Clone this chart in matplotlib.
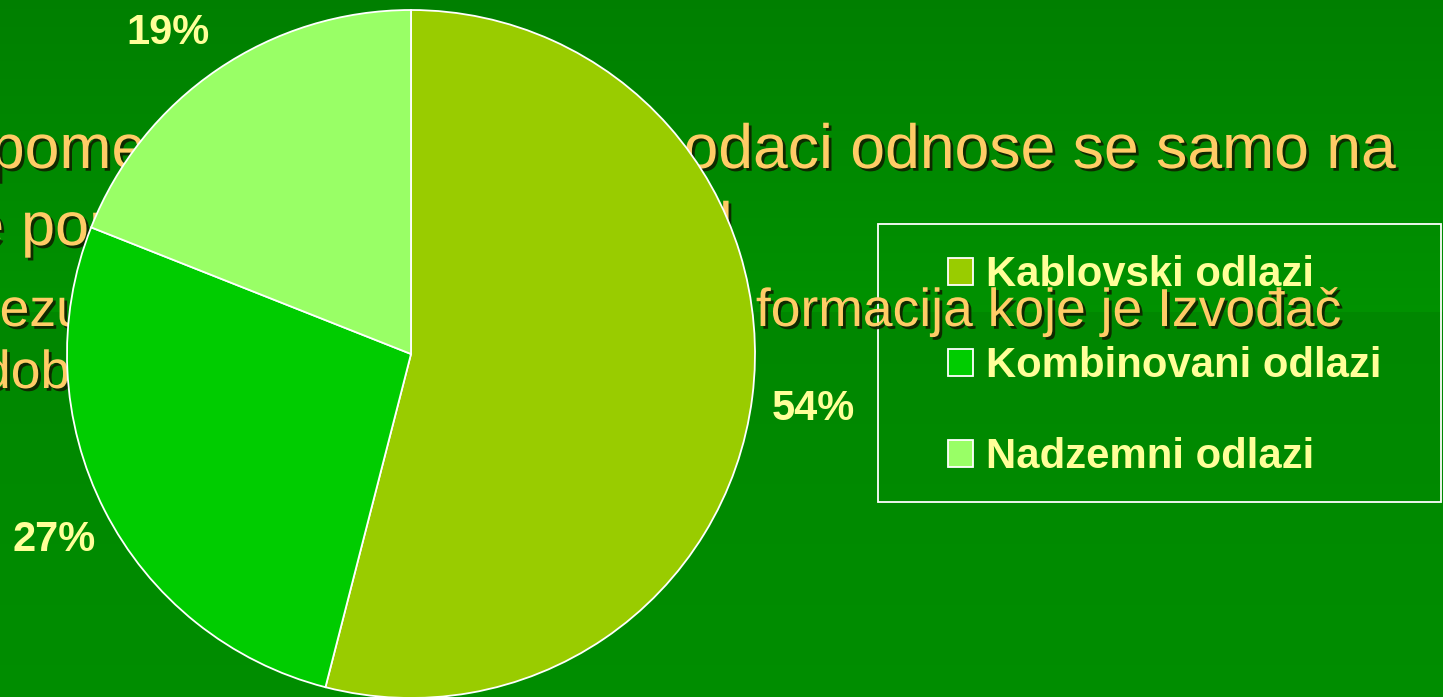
import numpy as np
import matplotlib
matplotlib.use('Agg')
import matplotlib.pyplot as plt
import matplotlib.patheffects as pe
from matplotlib.patches import Rectangle

# podaci sa grafikona
labels = ['Kablovski odlazi', 'Kombinovani odlazi', 'Nadzemni odlazi']
shares = [54, 27, 19]
colors = ['#99CC00', '#00CC00', '#99FF66']

# tekst slajda iza pite (levi i desni deo reda, sredinu pokriva pita)
note_left = ['Napomena: Navedeni', 'sve pomoćne', 'Rezultati su', 'dobio od']
note_right = ['podaci odnose se samo na', 'izvod', 'formacija koje je Izvođač', '']
note_size = [45, 44, 38.5, 38.5]
note_base = [168, 245, 326, 388]
note_x0 = [-90, -91, -39, -19]
note_x1 = [1396, 733, 1342, 0]

W, H = 1443, 697
fig = plt.figure(figsize=(W / 100, H / 100), dpi=100)
plt.rcParams['font.family'] = ['Liberation Sans', 'DejaVu Sans']

# pozadina slajda
bg = fig.add_axes([0, 0, 1, 1], zorder=0)
bg.set_xlim(0, W)
bg.set_ylim(H, 0)
bg.axis('off')
g = np.empty((H, 1, 3))
top = np.linspace(0.50, 0.57, 312)
bot = np.linspace(0.53, 0.555, H - 312)
g[:, 0, 0] = 0
g[:, 0, 1] = np.concatenate([top, bot])
g[:, 0, 2] = 0
bg.imshow(g, extent=[0, W, H, 0], aspect='auto', interpolation='bilinear')

shadow = [pe.SimplePatchShadow(offset=(2, -2), shadow_rgbFace='#102000', alpha=0.9), pe.Normal()]
for i in range(len(note_left)):
    bg.text(note_x0[i], note_base[i], note_left[i], fontsize=note_size[i], color='#FFCC66',
            va='baseline', ha='left', path_effects=shadow)
    if note_right[i]:
        bg.text(note_x1[i], note_base[i], note_right[i], fontsize=note_size[i], color='#FFCC66',
                va='baseline', ha='right', path_effects=shadow)

# okvir legende
bg.add_patch(Rectangle((878, 224), 563, 278, fill=False, edgecolor='white', lw=1.3))

# pita
r = 344
cx, cy = 411, 354
ax = fig.add_axes([(cx - r) / W, (H - cy - r) / H, 2 * r / W, 2 * r / H], zorder=2)
wedges, texts, autotexts = ax.pie(shares, colors=colors, startangle=90, counterclock=False,
                                  autopct='%1.0f%%', pctdistance=1.18,
                                  wedgeprops=dict(edgecolor='white', linewidth=1.3, clip_on=False),
                                  textprops=dict(color='#FFFF99', fontsize=30, fontweight='bold'))
# malo pomeranje procenata kao na slajdu
pct_dist = [1.18, 1.165, 1.18]
pct_turn = [0, 0, 2.5]
for w, t, d, s in zip(wedges, autotexts, pct_dist, pct_turn):
    a = np.deg2rad((w.theta1 + w.theta2) / 2 + s)
    t.set_position((d * np.cos(a), d * np.sin(a)))
    t.set_va('center_baseline')
ax.set_xlim(-1, 1)
ax.set_ylim(-1, 1)
ax.axis('off')

leg = fig.legend(handles=wedges, labels=labels, loc='upper left',
                 bbox_to_anchor=(948 / W, 1 - 255 / H), frameon=False,
                 borderpad=0, borderaxespad=0, handlelength=0.6, handleheight=0.6,
                 handletextpad=0.3, labelspacing=1.22,
                 prop=dict(family='Liberation Sans', weight='bold', size=30.2))
for t in leg.get_texts():
    t.set_color('#FFFF99')

fig.savefig('out.png', dpi=100)
